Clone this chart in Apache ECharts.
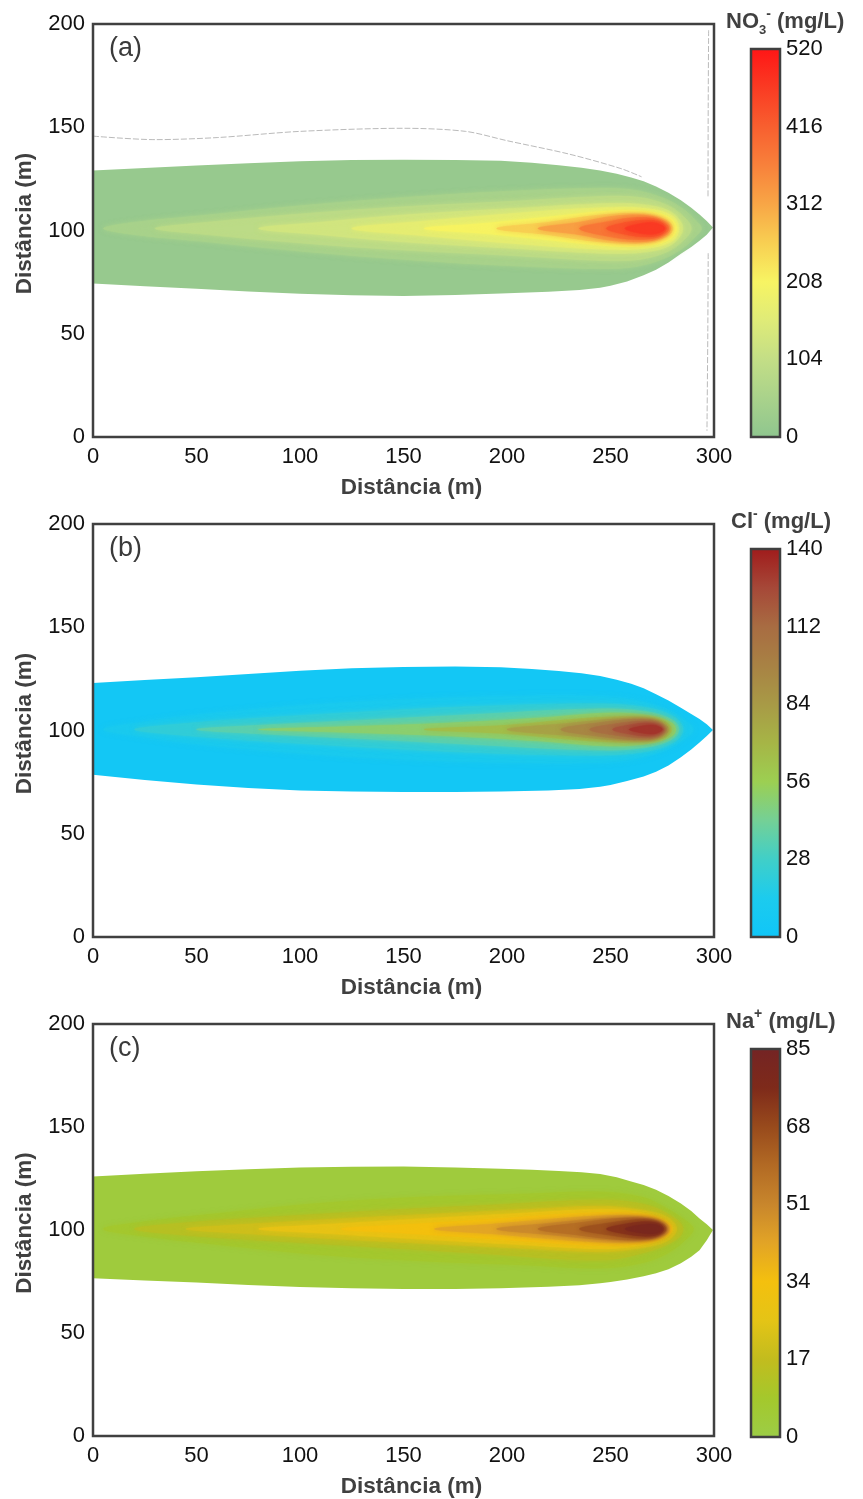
<!DOCTYPE html>
<html>
<head>
<meta charset="utf-8">
<script src="https://cdn.jsdelivr.net/npm/echarts@6/dist/echarts.min.js"></script>
<style>
  html, body { margin: 0; padding: 0; background: #ffffff; }
  #chart { width: 863px; height: 1499px; }
</style>
</head>
<body>
<div id="chart"></div>
<script>
// Plume concentration maps (NO3-, Cl-, Na+) drawn as nested iso-concentration polygons.
// Each contour is a closed outline [distance x (m), distance y (m)] for one level (mg/L).

// ---------- NO3- ----------
const nitrateTicks = [0, 104, 208, 312, 416, 520];
const nitrateColors = ['#8fc68f', '#a9d28b', '#c3de86', '#dfeb78', '#f7f463', '#f8cf52',
                       '#f8a646', '#f8813b', '#f85f2f', '#fa3b23', '#ff1616'];
const nitrateLevels = [15, 50, 90, 130, 170, 210, 260, 320, 380, 430, 470];
const nitrateContours = [
  [[0,129],[25,130.3],[50,131.5],[75,132.6],[100,133.5],[125,134.1],[150,134.3],[175,134.2],[197,133.8],[212,132.8],[225,131.6],[236,130.4],
   [245,129],[253,127.5],[260,125.7],[266,123.8],[272,121.3],[278,118.3],[284,114.7],[289,111],[293,107.8],[296.5,104.6],[299.5,101.5],
   [296.5,98],[293,95],[289,92],[284,88.8],[278,84.5],[272,81],[266,78.3],[258,75.3],[250,73.3],[245,72.3],[235,71.2],[220,70.3],
   [197,69.5],[175,68.8],[150,68.3],[125,68.6],[100,69.4],[75,70.5],[50,71.8],[25,73],[0,74.3]],
  [[5,101],[20,104],[50,107],[100,112],[150,116],[200,119],[245,120.5],[262,119.5],[276,115.5],[285,110.5],[291,105],[294,101],
   [291,97],[285,91.5],[276,86.5],[262,82.5],[245,81.5],[200,83],[150,86],[100,90],[50,95],[20,98]],
  [[30,101],[50,103.5],[100,108],[150,111.5],[200,114],[245,116.5],[264,116],[277,112.5],[285,107],[289,101],
   [285,95],[277,89.5],[264,86],[245,85.5],[200,88],[150,90.5],[100,94],[50,98.5]],
  [[80,101],[110,104],[150,107.5],[200,110.5],[245,113],[266,112.5],[279,109],[285,101],
   [279,93],[266,89.5],[245,89],[200,91.5],[150,94.5],[110,98]],
  [[125,101],[160,104.5],[200,108],[245,111],[268,110.5],[280,107],[283,101],
   [280,95],[268,91.5],[245,91],[200,94],[160,97.5]],
  [[160,101],[190,103.5],[220,106.5],[250,109.5],[270,109],[279,106],[282,101],
   [279,96],[270,93],[250,92.5],[220,95.5],[190,98.5]],
  [[195,101],[220,104],[245,107.5],[266,108],[277,105],[280,101],
   [277,97],[266,94],[245,94.5],[220,98]],
  [[215,101],[235,104],[252,107],[268,107.2],[277,104],[279,101],
   [277,98],[268,94.8],[252,95],[235,98]],
  [[235,101],[250,104.5],[262,106.3],[272,105.5],[277.5,102.5],[278,101],
   [277.5,99.5],[272,96.5],[262,95.7],[250,97]],
  [[248,101],[258,104],[267,105],[274,104],[277,101],
   [274,98],[267,97],[258,98]],
  [[257,101],[265,103.4],[271,103.8],[275,102.4],[276.2,101],
   [275,99.6],[271,98.3],[265,98.6]]
];
// faint contour traces outside the plume
const nitrateUpperTrace = [[0,145.7],[30,144],[60,145],[100,148],[150,149.5],[180,148],[200,143.5],[230,137],[255,130],[265,126]];
const nitrateSideTraceTop = [[297.4,197],[297.2,160],[297.1,116]];
const nitrateSideTraceBottom = [[297.2,89],[297,50],[296.6,3]];

// ---------- Cl- ----------
const chlorideTicks = [0, 28, 56, 84, 112, 140];
const chlorideColors = ['#10c6f8', '#1ccbee', '#40cfc8', '#74d096', '#9ccf52', '#a6b546',
                        '#a89a46', '#a88244', '#a86c42', '#a64838', '#a01c1c'];
const chlorideLevels = [4, 12, 22, 35, 50, 65, 80, 95, 110, 122, 132];
const chlorideContours = [
  [[0,123],[25,124.4],[50,125.8],[75,127.4],[100,128.9],[125,130.1],[150,130.8],[175,131],[197,130.6],[212,129.8],[225,128.8],[236,127.7],
   [245,126.4],[253,124.6],[260,122.6],[266,120.4],[272,117.6],[278,114.5],[284,111],[289,108],[293,105.6],[296.5,103],[299.5,100.2],
   [296.5,97.3],[293,94.2],[289,90.8],[284,87],[278,83],[272,80],[266,77.7],[258,75.5],[250,73.6],[245,72.7],[235,71.7],[220,71],
   [197,70.5],[175,70.2],[150,70.2],[125,70.4],[100,71],[75,72.2],[50,73.8],[25,76],[0,78.6]],
  [[5,100.5],[20,103.5],[50,107.5],[100,112],[150,115],[200,116.5],[245,116.5],[263,114.5],[276,110.5],[286,105],[290,100.5],
   [286,96],[276,90.5],[263,86.5],[245,84.5],[200,84.5],[150,86],[100,89],[50,93.5],[20,97.5]],
  [[20,100.5],[40,103],[80,106],[130,109],[180,111.5],[245,113],[268,111],[281,106.5],[285,100.5],
   [281,94.5],[268,90],[245,88],[180,89.5],[130,92],[80,95],[40,98]],
  [[50,100.5],[80,102.5],[130,105],[180,107.5],[245,110.5],[268,109],[280,105],[283,100.5],
   [280,96],[268,92],[245,90.5],[180,93.5],[130,96],[80,98.5]],
  [[80,100.5],[120,101.8],[170,103.5],[215,106],[250,108.5],[270,107],[280,103.5],[281.5,100.5],
   [280,97.5],[270,94],[250,92.5],[215,95],[170,97.5],[120,99.2]],
  [[160,100.5],[200,102.5],[240,106],[264,106.5],[276,104.5],[279.5,100.5],
   [276,96.5],[264,94.5],[240,95],[200,98.5]],
  [[200,100.5],[230,103.5],[256,105.8],[271,105.3],[277.5,102],[278,100.5],
   [277.5,99],[271,95.7],[256,95.2],[230,97.5]],
  [[226,100.5],[246,104],[262,105.4],[272,104.4],[277,100.5],
   [272,96.6],[262,95.6],[246,97]],
  [[240,100.5],[255,103.6],[266,104.4],[273.5,103.2],[276.2,100.5],
   [273.5,97.8],[266,96.6],[255,97.4]],
  [[251,100.5],[261,103],[268.5,103.6],[274,102.2],[275.6,100.5],
   [274,98.8],[268.5,97.4],[261,98]],
  [[259,100.5],[266,102.3],[271,102.6],[274.3,101.4],[275,100.5],
   [274.3,99.6],[271,98.4],[266,98.7]]
];

// ---------- Na+ ----------
const sodiumTicks = [0, 17, 34, 51, 68, 85];
const sodiumColors = ['#9ccd46', '#a4c82c', '#c2bc1e', '#e4c416', '#f4c00e', '#e2a426',
                      '#c8862c', '#b26a24', '#984a1c', '#7e2a1a', '#742424'];
const sodiumLevels = [3, 8, 14, 20, 27, 34, 42, 50, 58, 66, 74, 80];
const sodiumContours = [
  [[0,126],[25,127.3],[50,128.5],[75,129.5],[100,130.3],[125,130.7],[150,130.8],[175,130.4],[197,129.7],[212,129.2],[225,128.6],[236,128],
   [245,127.2],[253,125.6],[260,123.6],[266,121.8],[272,119.5],[278,116.5],[284,112.9],[289,109.2],[293,105.6],[296.5,102.8],[299.5,100],
   [296.5,95],[293,90.2],[289,87],[284,83.8],[278,81],[272,79],[266,77.6],[258,76],[250,74.8],[245,74.1],[235,73.2],[220,72.5],
   [197,71.7],[175,71.4],[150,71.3],[125,71.7],[100,72.3],[75,73.3],[50,74.5],[25,75.5],[0,76.6]],
  [[5,100.5],[25,104],[60,108],[110,113],[160,116],[210,117.5],[245,118.5],[265,116],[278,110],[287,104],[290,100.5],
   [287,96],[278,89],[265,84],[245,81.5],[210,83],[160,85],[110,88],[60,93],[25,97]],
  [[20,100.5],[45,103.5],[90,106.5],[140,109.5],[190,112],[245,114.5],[268,112],[282,105],[285,100.5],
   [282,95.5],[268,89.5],[245,85.5],[190,88.5],[140,91.5],[90,94.5],[45,97.5]],
  [[45,100.5],[70,102.5],[120,105.5],[170,108],[210,110],[245,111.5],[266,109.5],[278,106],[282,100.5],
   [278,95],[266,91.5],[245,89.5],[210,91],[170,93],[120,95.5],[70,98.5]],
  [[80,100.5],[110,102.5],[160,105.5],[205,108],[245,110],[264,108.5],[276,105],[280,100.5],
   [276,96],[264,92.5],[245,91],[205,93],[160,95.5],[110,98.5]],
  [[120,100.5],[150,102.5],[190,105],[225,107.5],[250,108.5],[268,107],[278,103],[279.5,100.5],
   [278,98],[268,94],[250,92.5],[225,93.5],[190,96],[150,98.5]],
  [[165,100.5],[195,103],[230,106],[255,107],[270,105.5],[277,103],[278.5,100.5],
   [277,98],[270,95.5],[255,94],[230,95],[195,98]],
  [[195,100.5],[220,103.2],[245,105.5],[265,105.5],[275,103],[277.5,100.5],
   [275,98],[265,95.5],[245,95.5],[220,97.8]],
  [[215,100.5],[235,103.5],[255,105.7],[269,105.3],[276,102.5],[277,100.5],
   [276,98.5],[269,95.7],[255,95.3],[235,97.5]],
  [[235,100.5],[250,103.5],[263,105],[272,104],[276.3,101.5],[276.3,99.5],
   [272,97],[263,96],[250,97.5]],
  [[248,100.5],[259,103.2],[268,104],[274,102.7],[275.8,100.5],
   [274,98.3],[268,97],[259,97.8]],
  [[257,100.5],[265,102.5],[271,102.8],[274.5,101.5],[275,100.5],
   [274.5,99.5],[271,98.2],[265,98.5]]
];

const FONT = "'Liberation Sans', Arial, Helvetica, sans-serif";
const FRAME = '#404040';
const PANEL_STEP = 500;

const panels = [
  { tag: '(a)', ion: 'NO', sub: '3', charge: '-', unitLeft: 726, ticks: nitrateTicks, colors: nitrateColors,
    levels: nitrateLevels, contours: nitrateContours },
  { tag: '(b)', ion: 'Cl', sub: '', charge: '-', unitLeft: 731, ticks: chlorideTicks, colors: chlorideColors,
    levels: chlorideLevels, contours: chlorideContours },
  { tag: '(c)', ion: 'Na', sub: '', charge: '+', unitLeft: 726, ticks: sodiumTicks, colors: sodiumColors,
    levels: sodiumLevels, contours: sodiumContours }
];

const grids = [], xAxes = [], yAxes = [], series = [], visualMaps = [], titles = [];

panels.forEach((p, i) => {
  const off = i * PANEL_STEP;
  const vMin = p.ticks[0], vMax = p.ticks[p.ticks.length - 1], vStep = p.ticks[1] - p.ticks[0];

  // map panel
  grids.push({ left: 93, top: 24 + off, width: 621, height: 413, show: true, z: 5,
               backgroundColor: 'transparent', borderColor: FRAME, borderWidth: 2.5 });
  // colour-bar panel
  grids.push({ left: 751, top: 49 + off, width: 29, height: 388, show: true, z: 5,
               backgroundColor: 'transparent', borderColor: FRAME, borderWidth: 2.5 });
  const gMap = 2 * i, gBar = 2 * i + 1;

  xAxes.push({
    gridIndex: gMap, type: 'value', min: 0, max: 300, interval: 50,
    axisLine: { show: false }, axisTick: { show: false }, splitLine: { show: false },
    axisLabel: { fontSize: 22, color: '#111', margin: 9, fontFamily: FONT },
    name: 'Distância (m)', nameLocation: 'middle', nameGap: 39,
    nameTextStyle: { fontSize: 22.5, fontWeight: 'bold', color: FRAME, fontFamily: FONT, padding: [0, 0, 0, 16] }
  });
  yAxes.push({
    gridIndex: gMap, type: 'value', min: 0, max: 200, interval: 50,
    axisLine: { show: false }, axisTick: { show: false }, splitLine: { show: false },
    axisLabel: { fontSize: 22, color: '#111', margin: 8, fontFamily: FONT },
    name: 'Distância (m)', nameLocation: 'middle', nameGap: 57, nameRotate: 90,
    nameTextStyle: { fontSize: 22.5, fontWeight: 'bold', color: FRAME, fontFamily: FONT, padding: [0, 0, 0, 14] }
  });
  xAxes.push({ gridIndex: gBar, type: 'value', min: 0, max: 1, show: false });
  yAxes.push({
    gridIndex: gBar, type: 'value', position: 'right', min: vMin, max: vMax, interval: vStep,
    axisLine: { show: false }, axisTick: { show: false }, splitLine: { show: false },
    axisLabel: { fontSize: 22, color: '#111', margin: 6, fontFamily: FONT }
  });

  const contourSeriesIndex = series.length;
  series.push({
    type: 'custom', name: p.ion, xAxisIndex: gMap, yAxisIndex: gMap, z: 2, clip: true,
    data: p.levels.map((v, k) => [v, k]),
    renderItem: (params, api) => {
      const k = api.value(1);
      const pts = p.contours[k].map(pt => api.coord(pt));
      const col = api.visual('color');
      const style = { fill: col, stroke: col, lineWidth: k === 0 ? 0 : 0.6 };
      if (k > 0) { style.shadowBlur = 5; style.shadowColor = col; }
      return {
        type: 'polygon',
        shape: { points: pts, smooth: k === 0 ? 0 : 0.35 },
        style: style
      };
    }
  });
  visualMaps.push({
    type: 'continuous', show: false, seriesIndex: contourSeriesIndex, dimension: 0,
    min: vMin, max: vMax, inRange: { color: p.colors }
  });

  // colour bar
  series.push({
    type: 'custom', xAxisIndex: gBar, yAxisIndex: gBar, silent: true,
    data: [[vMin, vMax]],
    renderItem: (params, api) => {
      const lo = api.coord([0, api.value(0)]);
      const hi = api.coord([1, api.value(1)]);
      return {
        type: 'rect',
        shape: { x: lo[0], y: hi[1], width: hi[0] - lo[0], height: lo[1] - hi[1] },
        style: {
          fill: new echarts.graphic.LinearGradient(0, 1, 0, 0,
            p.colors.map((c, n) => ({ offset: n / (p.colors.length - 1), color: c })))
        }
      };
    }
  });

  titles.push({
    text: '{b|' + p.ion + '}' + (p.sub ? '{s|' + p.sub + '}' : '') + '{p|' + p.charge + '}{b| (mg/L)}',
    left: p.unitLeft, top: 7 + off, padding: 0,
    textStyle: {
      rich: {
        b: { fontSize: 22, fontWeight: 'bold', color: FRAME, fontFamily: FONT, lineHeight: 30, verticalAlign: 'middle' },
        s: { fontSize: 13, fontWeight: 'bold', color: FRAME, fontFamily: FONT, verticalAlign: 'bottom', lineHeight: 14 },
        p: { fontSize: 14, fontWeight: 'bold', color: FRAME, fontFamily: FONT, verticalAlign: 'top', lineHeight: 14 }
      }
    }
  });
  titles.push({
    text: p.tag, left: 109, top: 35 + off, padding: 0,
    textStyle: { fontSize: 27, fontWeight: 'normal', color: '#3a3a3a', fontFamily: FONT }
  });
});

// faint traces in the NO3- map
[nitrateUpperTrace, nitrateSideTraceTop, nitrateSideTraceBottom].forEach(tr => {
  series.push({
    type: 'line', xAxisIndex: 0, yAxisIndex: 0, data: tr, showSymbol: false, silent: true, z: 3,
    smooth: 0.3, lineStyle: { color: '#a8a8a8', width: 0.8, type: [6, 2] }
  });
});

const chart = echarts.init(document.getElementById('chart'), null, { renderer: 'canvas' });
chart.setOption({
  backgroundColor: '#ffffff',
  animation: false,
  textStyle: { fontFamily: FONT },
  title: titles,
  grid: grids,
  xAxis: xAxes,
  yAxis: yAxes,
  visualMap: visualMaps,
  series: series
});
</script>
</body>
</html>
